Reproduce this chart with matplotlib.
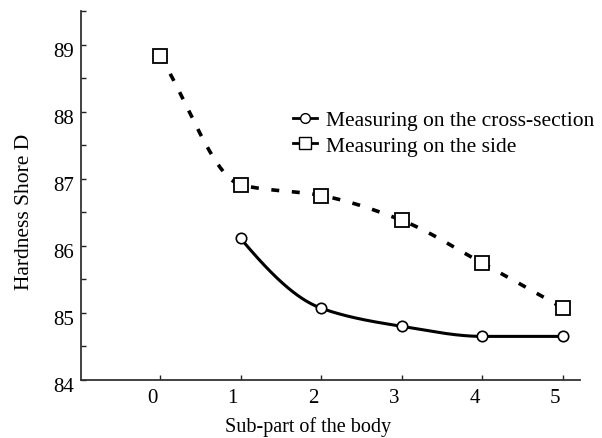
import numpy as np
import matplotlib
matplotlib.use("Agg")
import matplotlib.pyplot as plt
from matplotlib.ticker import MultipleLocator
from matplotlib.lines import Line2D
from matplotlib.transforms import ScaledTranslation

x_cross = [1, 2, 3, 4, 5]
y_cross = [86.11, 85.07, 84.80, 84.65, 84.65]
x_side = [0, 1, 2, 3, 4, 5]
y_side = [88.83, 86.91, 86.75, 86.38, 85.74, 85.07]
xticks = [0, 1, 2, 3, 4, 5]
yticks = [84, 85, 86, 87, 88, 89]
labels = ['Measuring on the cross-section', 'Measuring on the side']


def pchip(x, y, three_point_start=True, n=300):
    x = np.asarray(x, float)
    y = np.asarray(y, float)
    h = np.diff(x)
    d = np.diff(y) / h
    m = np.zeros_like(y)
    for k in range(1, len(x) - 1):
        if d[k - 1] * d[k] <= 0:
            m[k] = 0
        else:
            w1 = 2 * h[k] + h[k - 1]
            w2 = h[k] + 2 * h[k - 1]
            m[k] = (w1 + w2) / (w1 / d[k - 1] + w2 / d[k])

    def edge(h0, h1, d0, d1):
        v = ((2 * h0 + h1) * d0 - h0 * d1) / (h0 + h1)
        if np.sign(v) != np.sign(d0):
            v = 0
        elif np.sign(d0) != np.sign(d1) and abs(v) > abs(3 * d0):
            v = 3 * d0
        return v
    m[0] = edge(h[0], h[1], d[0], d[1]) if three_point_start else d[0]
    m[-1] = edge(h[-1], h[-2], d[-1], d[-2])
    xs = np.linspace(x[0], x[-1], n)
    ys = np.empty_like(xs)
    for i, xv in enumerate(xs):
        k = min(np.searchsorted(x, xv, side="right") - 1, len(x) - 2)
        t = (xv - x[k]) / h[k]
        h00 = 2 * t**3 - 3 * t**2 + 1
        h10 = t**3 - 2 * t**2 + t
        h01 = -2 * t**3 + 3 * t**2
        h11 = t**3 - t**2
        ys[i] = h00 * y[k] + h10 * h[k] * m[k] + h01 * y[k + 1] + h11 * h[k] * m[k + 1]
    return xs, ys


plt.rcParams['font.family'] = ['Liberation Serif', 'DejaVu Serif']

fig = plt.figure(figsize=(6.02, 4.39), dpi=100)
ax = fig.add_axes([81 / 602, 1 - 381 / 439, (580 - 81) / 602, (381 - 12) / 439])

xs, ys = pchip(x_cross, y_cross)
ax.plot(xs, ys, color='black', lw=2.2, zorder=2)
ax.plot(x_cross, y_cross, linestyle='none', marker='o', ms=7.5, mfc='white',
        mec='black', mew=1.2, zorder=3)
xs2, ys2 = pchip(x_side, y_side, three_point_start=False)
ax.plot(xs2, ys2, color='black', lw=2.6, dashes=(2.2, 3.5), zorder=2)
ax.plot(x_side, y_side, linestyle='none', marker='s', ms=9.5, mfc='white',
        mec='black', mew=1.3, zorder=3)

h1 = Line2D([], [], color='black', lw=2, marker='o', ms=7, mfc='white', mec='black')
h2 = Line2D([], [], color='black', lw=2, marker='s', ms=8.5, mfc='white', mec='black')
fig.legend([h1, h2], labels,
           loc='center left', bbox_to_anchor=(293 / 602, 1 - 134 / 439),
           bbox_transform=fig.transFigure, frameon=False,
           fontsize=15.5, handlelength=1.1, handletextpad=0.45, labelspacing=0.27,
           borderaxespad=0, borderpad=0)

ax.set_xlim(-0.98, 5.21)
ax.set_ylim(84, 89.5)
ax.set_xticks(xticks)
ax.set_yticks(yticks)
ax.yaxis.set_minor_locator(MultipleLocator(0.5))
ax.tick_params(axis='both', which='both', direction='in', length=3.5, color='#222222',
               labelsize=15, width=1)
ax.tick_params(axis='x', pad=6)
ax.tick_params(axis='y', pad=5)
for s in ['top', 'right']:
    ax.spines[s].set_visible(False)
for s in ['left', 'bottom']:
    ax.spines[s].set_linewidth(1.3)
    ax.spines[s].set_color('#333333')
ax.set_xlabel('Sub-part of the body', fontsize=14.5)
ax.set_ylabel('Hardness Shore D', fontsize=15.5)
ax.xaxis.set_label_coords((308 - 81) / 499, -46 / 369)
ax.yaxis.set_label_coords((25 - 81) / 499, (381 - 212) / 369)
ax.xaxis.label.set_va('center')
ax.yaxis.label.set_va('center')

fig.canvas.draw()
dx = ScaledTranslation(-8 / 100, 0, fig.dpi_scale_trans)
dy = ScaledTranslation(0, -4 / 100, fig.dpi_scale_trans)
for lab in ax.get_xticklabels():
    lab.set_transform(lab.get_transform() + dx)
for lab in ax.get_yticklabels():
    lab.set_transform(lab.get_transform() + dy)

fig.savefig('out.png', dpi=100)
